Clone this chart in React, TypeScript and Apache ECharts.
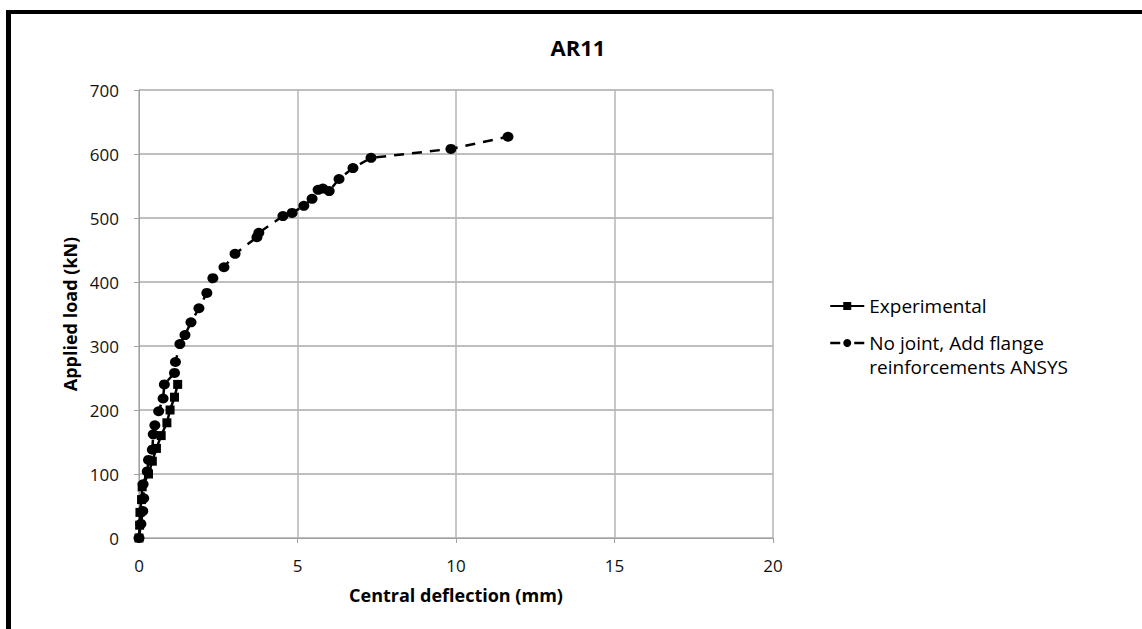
import React, { useEffect, useRef } from "react";
import * as echarts from "echarts";

const titleText = "AR11";
const xAxisName = "Central deflection (mm)";
const yAxisName = "Applied load (kN)";
const expName = "Experimental";
const ansysName = "No joint, Add flange\nreinforcements ANSYS";

const expDeflection = [0, 0.02, 0.03, 0.08, 0.1, 0.3, 0.42, 0.55, 0.7, 0.88, 0.98, 1.12, 1.22];
const expLoad = [0, 20, 40, 60, 80, 100, 120, 140, 160, 180, 200, 220, 240];

const ansysDeflection = [
  0, 0.06, 0.12, 0.15, 0.13, 0.26, 0.3, 0.42, 0.45, 0.5, 0.62, 0.76, 0.8, 1.12, 1.15,
  1.29, 1.45, 1.64, 1.89, 2.14, 2.33, 2.68, 3.03, 3.72, 3.78, 4.54, 4.83, 5.2, 5.46,
  5.65, 5.8, 6.0, 6.31, 6.75, 7.32, 9.84, 11.64,
];
const ansysLoad = [
  0, 22, 42, 62, 84, 104, 122, 138, 162, 176, 198, 218, 240, 258, 275,
  303, 317, 337, 359, 383, 406, 423, 444, 470, 477, 503, 508, 519, 530,
  544, 546, 542, 561, 578, 594, 608, 627,
];

const xTicks = { min: 0, max: 20, interval: 5 };
const yTicks = { min: 0, max: 700, interval: 100 };

export default function App() {
  const ref = useRef<HTMLDivElement>(null);
  useEffect(() => {
    if (!ref.current) return;
    const chart = echarts.init(ref.current, undefined, { renderer: "svg" });
    const font = "'Open Sans', 'Noto Sans', sans-serif";
    chart.setOption({
      animation: false,
      backgroundColor: "#ffffff",
      textStyle: { fontFamily: font },
      title: {
        text: titleText,
        left: 573,
        textAlign: "center",
        top: 31,
        textStyle: { fontSize: 22, fontWeight: "bold", color: "#000", fontFamily: font },
      },
      grid: { left: 139, right: 369, top: 90, bottom: 91, containLabel: false },
      xAxis: {
        type: "value",
        min: xTicks.min,
        max: xTicks.max,
        interval: xTicks.interval,
        name: xAxisName,
        nameLocation: "middle",
        nameGap: 48,
        nameTextStyle: { fontSize: 18, fontWeight: "bold", color: "#000", fontFamily: font },
        axisLine: { show: true, lineStyle: { color: "#a0a0a0", width: 1 } },
        axisTick: { show: true, length: 5, lineStyle: { color: "#a0a0a0" } },
        axisLabel: { fontSize: 17, color: "#111", margin: 19 },
        splitLine: { show: true, lineStyle: { color: "#b4b4b4", width: 1.5 } },
      },
      yAxis: {
        type: "value",
        min: yTicks.min,
        max: yTicks.max,
        interval: yTicks.interval,
        name: yAxisName,
        nameLocation: "middle",
        nameGap: 60,
        nameRotate: 90,
        nameTextStyle: { fontSize: 18, fontWeight: "bold", color: "#000", fontFamily: font },
        axisLine: { show: true, lineStyle: { color: "#a0a0a0", width: 1 } },
        axisTick: { show: true, length: 5, inside: false, lineStyle: { color: "#a0a0a0" } },
        axisLabel: { fontSize: 17, color: "#111", margin: 20 },
        splitLine: { show: true, lineStyle: { color: "#a8a8a8", width: 1.5 } },
      },
      legend: {
        orient: "vertical",
        left: 829,
        top: 294,
        padding: 0,
        itemWidth: 34,
        itemHeight: 10,
        itemGap: -11,
        textStyle: { fontSize: 19, color: "#000", fontFamily: font, lineHeight: 24 },
        formatter: (name: string) => (name === ansysName ? " \n" + name : name),
        data: [
          { name: expName },
          { name: ansysName, lineStyle: { type: [10, 14], width: 2.5 } },
        ],
      },
      graphic: [
        { type: "rect", shape: { x: 6, y: 10, width: 1136, height: 4 }, style: { fill: "#000" } },
        { type: "rect", shape: { x: 6, y: 10, width: 5, height: 619 }, style: { fill: "#000" } },
      ],
      series: [
        {
          name: expName,
          type: "line",
          data: expDeflection.map((x, i) => [x, expLoad[i]]),
          symbol: "rect",
          symbolSize: 9,
          showSymbol: true,
          itemStyle: { color: "#000" },
          lineStyle: { color: "#000", width: 2.5, type: "solid" },
          z: 3,
        },
        {
          name: ansysName,
          type: "line",
          data: ansysDeflection.map((x, i) => [x, ansysLoad[i]]),
          symbol: "circle",
          symbolSize: [11, 10],
          showSymbol: true,
          itemStyle: { color: "#000" },
          lineStyle: { color: "#000", width: 2.5, type: [10, 8] },
          z: 2,
        },
      ],
    });
    return () => chart.dispose();
  }, []);
  return (
    <div
      ref={ref}
      style={{ position: "absolute", left: 0, top: 0, width: 1142, height: 629 }}
    />
  );
}
